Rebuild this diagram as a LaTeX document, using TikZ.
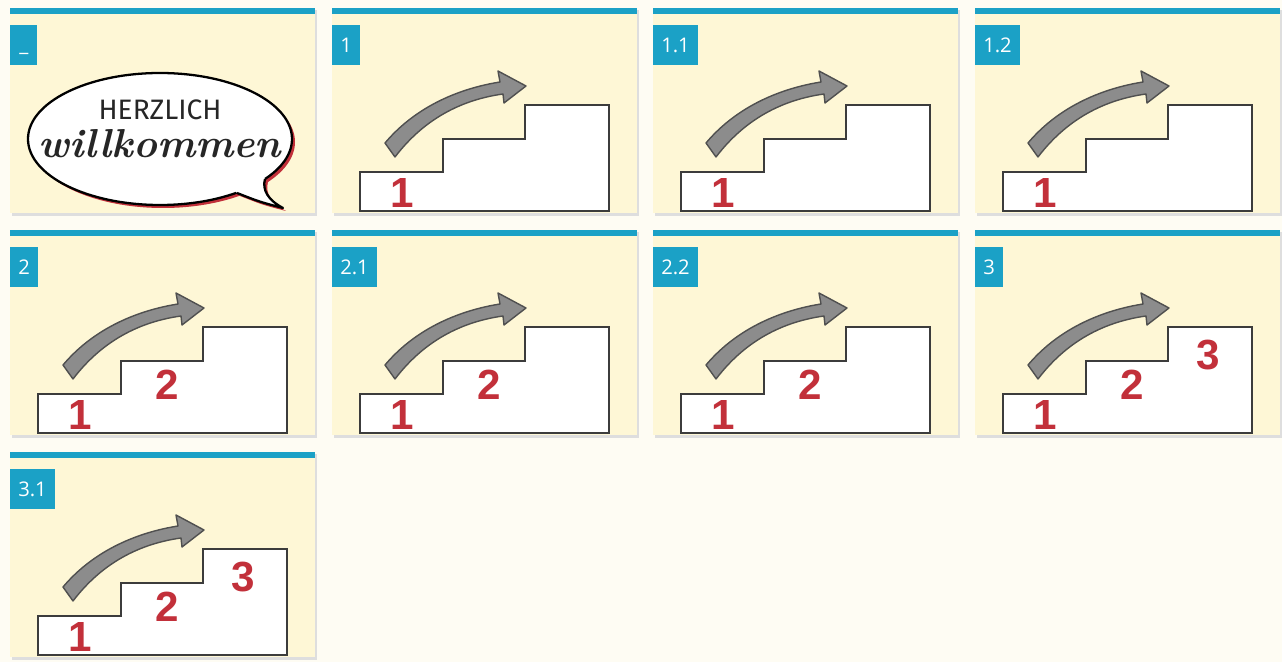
\documentclass[tikz,border=0pt]{standalone}
\usepackage{fontspec}
\newfontfamily\markenfont{Open Sans}
\newfontfamily\zahlfont{Liberation Sans}
\newfontfamily\herzfont{Fira Sans}
\usetikzlibrary{positioning}
\definecolor{papier}{HTML}{FEFCF3}
\definecolor{kartel}{HTML}{FEF7D6}
\definecolor{blau}{HTML}{1BA1C6}
\definecolor{rotz}{HTML}{C2303A}
\definecolor{pfeilg}{HTML}{8C8C8C}
\definecolor{dunkel}{HTML}{3C3C3C}

\tikzset{
  kartebg/.style={fill=kartel},
  schatten/.style={fill=black!13},
  balken/.style={fill=blau},
  marke/.style={fill=blau,text=white,font=\markenfont\fontsize{11.5}{13}\selectfont,
    minimum height=0.8cm,minimum width=0.54cm,inner xsep=4.5pt,inner ysep=0pt},
  stufen/.style={fill=white,draw=dunkel,line width=0.8pt},
  pfeil/.style={fill=pfeilg,draw=dunkel!90,line width=0.8pt,line join=round},
  ziffer/.style={text=rotz,font=\zahlfont\bfseries\fontsize{24}{24}\selectfont,inner sep=0pt},
  blase/.style={fill=white,draw=black,line width=1.3pt}
}

% Treppe mit Pfeil und Ziffern 1..#1
\newcommand{\treppe}[1]{%
  \draw[stufen] (28,203)--(28,164)--(111,164)--(111,131)--(193,131)--(193,97)--(277,97)--(277,203)--cycle;
  \draw[pfeil] (53,135) .. controls (85,97) and (130,80) .. (168,74) -- (166,63) -- (194,78)
    -- (172,95) -- (171,86) .. controls (135,91) and (95,107) .. (63,149) -- cycle;
  \node[ziffer] at (70,185) {1};
  \ifnum#1>1 \node[ziffer] at (157,155) {2};\fi
  \ifnum#1>2 \node[ziffer] at (233,125) {3};\fi
}

% Karte: x, y, Name, Marke, Stufen (0 = Willkommen)
\newcommand{\karte}[5]{%
  \begin{scope}[shift={(#1,#2)}]
    \fill[schatten] (2,2) rectangle (307,208);
    \fill[kartebg] (0,0) rectangle (305,205);
    \fill[balken] (0,0) rectangle (305,6);
    \node[marke,anchor=north west] (#3) at (0,17) {#4};
    \ifnum#5>0 \treppe{#5}\fi
  \end{scope}}

\begin{document}
\begin{tikzpicture}[x=0.02cm,y=-0.02cm]
  \useasboundingbox (0,0) rectangle (1282,662);
  \fill[papier] (0,0) rectangle (1282,662);

  \karte{10}{8}{m0}{\vphantom{1}\_}{0}
  \karte{332}{8}{m1}{1}{1}
  \karte{653}{8}{m11}{1.1}{1}
  \karte{975}{8}{m12}{1.2}{1}
  \karte{10}{230}{m2}{2}{2}
  \karte{332}{230}{m21}{2.1}{2}
  \karte{653}{230}{m22}{2.2}{2}
  \karte{975}{230}{m3}{3}{3}
  \karte{10}{452}{m31}{3.1}{3}

  % Sprechblase
  \begin{scope}[shift={(10,8)}]
    \fill[rotz] (153,134) ellipse [x radius=132,y radius=66];
    \fill[rotz] (230,188) .. controls (253,197) .. (276,203) .. controls (261,195) and (255,185) .. (258,174) -- cycle;
    \draw[blase] (150,131) ellipse [x radius=132,y radius=66];
    \fill[white] (227,185) .. controls (250,194) .. (273,200) .. controls (258,192) and (252,182) .. (255,171)
      -- (250,166) -- (222,179) -- cycle;
    \draw[blase,fill=none,line join=round] (227,185) .. controls (250,194) .. (273,200)
      .. controls (258,192) and (252,182) .. (255,171);
    \node[font=\herzfont\fontsize{16}{16}\selectfont,text=black!85,inner sep=1pt] (herz) at (150,102) {HERZLICH};
    \node[font=\fontsize{23}{23}\selectfont\bfseries\itshape,text=black!85,inner sep=1pt,below=3pt of herz] (willk) {willkommen};
  \end{scope}
\end{tikzpicture}
\end{document}
